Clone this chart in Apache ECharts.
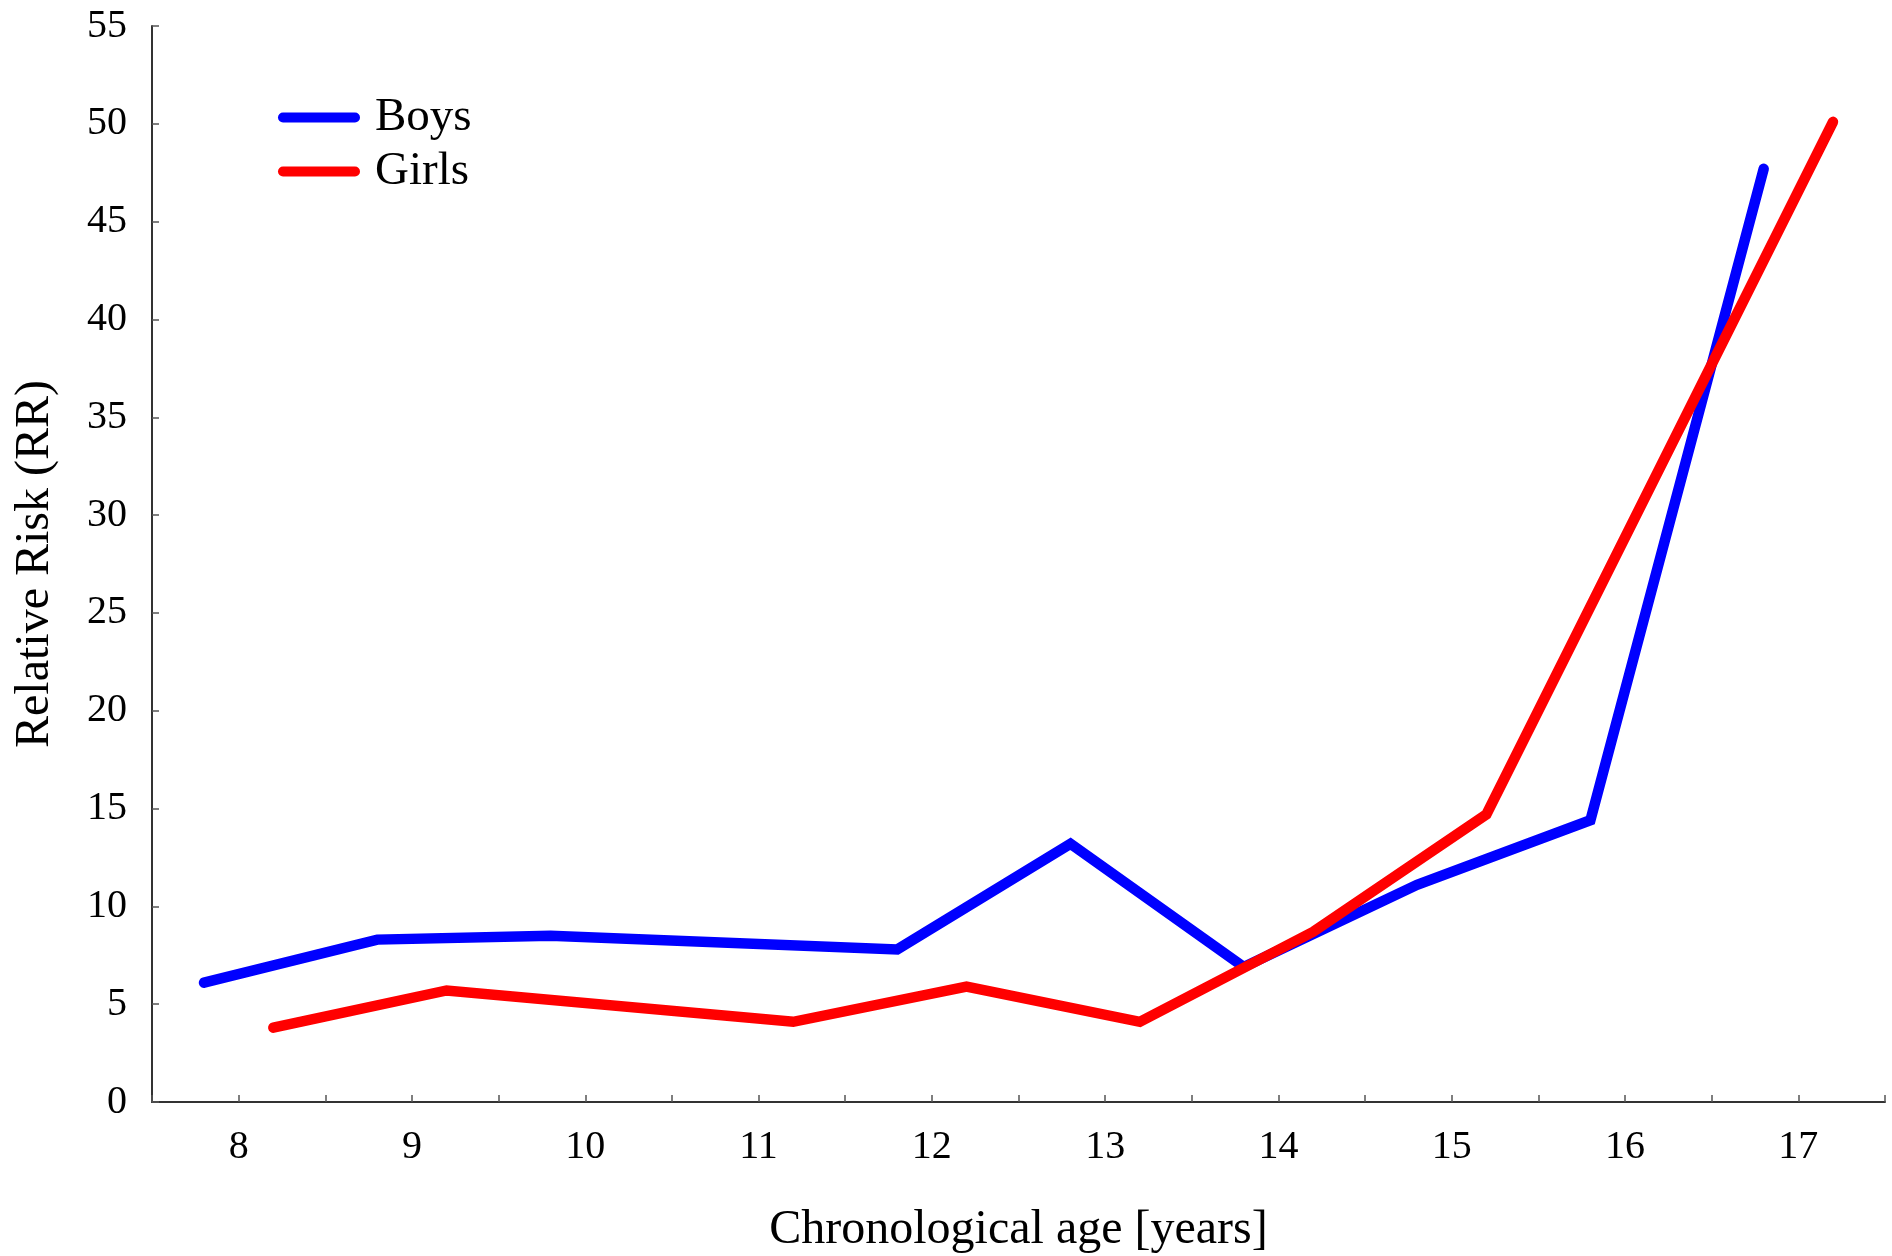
<!DOCTYPE html>
<html>
<head>
<meta charset="utf-8">
<script src="https://cdn.jsdelivr.net/npm/echarts@6/dist/echarts.min.js"></script>
<style>
  html, body { margin: 0; padding: 0; background: #fff; }
  #main { width: 1892px; height: 1256px; }
</style>
</head>
<body>
<div id="main"></div>
<script>
// relative risk by chronological age
const boysAge = [7.8, 8.8, 9.8, 11.8, 12.8, 13.8, 14.8, 15.8, 16.8];
const boysRR = [6.1, 8.3, 8.5, 7.8, 13.2, 6.9, 11.1, 14.4, 47.7];
const girlsAge = [8.2, 9.2, 11.2, 12.2, 13.2, 14.2, 15.2, 17.2];
const girlsRR = [3.8, 5.7, 4.1, 5.9, 4.1, 8.7, 14.7, 50.1];
const xTickLabels = [8, 9, 10, 11, 12, 13, 14, 15, 16, 17];

const font = 'Liberation Serif';
const pair = (xs, ys) => xs.map((x, i) => [x, ys[i]]);

var myChart = echarts.init(document.getElementById('main'));
let option = {
  animation: false,
  grid: { left: 152, right: 7, top: 26, bottom: 154, outerBoundsMode: 'none' },
  legend: {
    orient: 'vertical',
    left: 273,
    top: 89,
    itemWidth: 82,
    itemHeight: 11,
    itemGap: 7,
    icon: 'path://M5,0 H77 A5,5 0 0 1 77,10 H5 A5,5 0 0 1 5,0 Z',
    textStyle: { fontFamily: font, fontSize: 47, color: '#000', padding: [0, 0, 0, 10] },
    data: ['Boys', 'Girls']
  },
  xAxis: {
    type: 'value',
    min: 7.5,
    max: 17.5,
    interval: 0.5,
    name: 'Chronological age [years]',
    nameLocation: 'middle',
    nameGap: 104,
    nameTextStyle: { fontFamily: font, fontSize: 48, color: '#000' },
    splitLine: { show: false },
    axisLine: { lineStyle: { color: '#333', width: 2 } },
    axisTick: { inside: true, length: 7, lineStyle: { color: '#555', width: 1.5 } },
    axisLabel: {
      margin: 25,
      fontFamily: font,
      fontSize: 40,
      color: '#000',
      formatter: v => (xTickLabels.includes(v) ? String(v) : '')
    }
  },
  yAxis: {
    type: 'value',
    min: 0,
    max: 55,
    interval: 5,
    name: 'Relative Risk (RR)',
    nameLocation: 'middle',
    nameGap: 93,
    nameTextStyle: { fontFamily: font, fontSize: 48, color: '#000' },
    splitLine: { show: false },
    axisLine: { show: true, lineStyle: { color: '#333', width: 2 } },
    axisTick: { show: true, inside: true, length: 7, lineStyle: { color: '#555', width: 1.5 } },
    axisLabel: { margin: 25, fontFamily: font, fontSize: 40, color: '#000' }
  },
  series: [
    {
      name: 'Boys',
      type: 'line',
      data: pair(boysAge, boysRR),
      showSymbol: false,
      color: '#0000ff',
      lineStyle: { width: 10.5, color: '#0000ff', cap: 'round', join: 'miter' }
    },
    {
      name: 'Girls',
      type: 'line',
      data: pair(girlsAge, girlsRR),
      showSymbol: false,
      color: '#ff0000',
      lineStyle: { width: 10.5, color: '#ff0000', cap: 'round', join: 'miter' }
    }
  ]
};
myChart.setOption(option);
</script>
</body>
</html>
